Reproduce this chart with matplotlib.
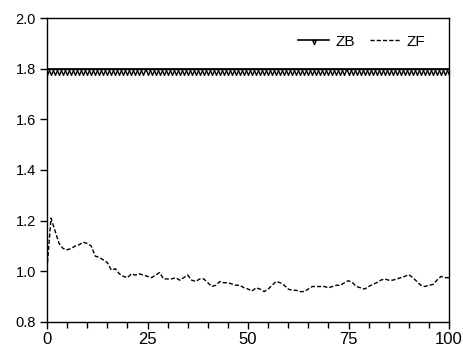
import numpy as np
import matplotlib.pyplot as plt
from matplotlib.ticker import MultipleLocator
from matplotlib.path import Path

plt.rcParams['font.family'] = ['Liberation Sans', 'DejaVu Sans']

# データ
t = np.arange(0, 101)
zb = [1.80] * 101
zf = [1.01, 1.21, 1.16, 1.11, 1.09, 1.085, 1.09, 1.10, 1.105, 1.115,
      1.11, 1.10, 1.06, 1.055, 1.045, 1.035, 1.005, 1.01, 0.99, 0.98,
      0.975, 0.99, 0.985, 0.99, 0.985, 0.98, 0.975, 0.985, 0.995, 0.97,
      0.97, 0.97, 0.975, 0.965, 0.975, 0.985, 0.965, 0.96, 0.97, 0.97,
      0.955, 0.94, 0.945, 0.96, 0.955, 0.955, 0.95, 0.945, 0.945, 0.935,
      0.93, 0.922, 0.935, 0.93, 0.92, 0.93, 0.945, 0.96, 0.955, 0.945,
      0.93, 0.925, 0.925, 0.92, 0.92, 0.93, 0.94, 0.94, 0.94, 0.94,
      0.935, 0.94, 0.945, 0.945, 0.955, 0.963, 0.955, 0.94, 0.935, 0.93,
      0.94, 0.948, 0.955, 0.965, 0.97, 0.965, 0.965, 0.97, 0.975, 0.98,
      0.987, 0.975, 0.96, 0.945, 0.94, 0.945, 0.948, 0.965, 0.98, 0.975,
      0.975]

# 線の下にぶら下がる三角マーカー
tri = Path([(-1, 0), (1, 0), (0, -2.5), (-1, 0)],
           [Path.MOVETO, Path.LINETO, Path.LINETO, Path.CLOSEPOLY])

fig = plt.figure(figsize=(4.64, 3.49), dpi=100)
ax = fig.add_axes([0.1013, 0.0774, 0.8664, 0.871])

ax.plot(t, zb, color='black', lw=1.2, marker=tri, markersize=8.5,
        markerfacecolor='white', markeredgecolor='black', markeredgewidth=1.0,
        label='ZB')
ax.plot(t, zf, color='black', lw=1, linestyle=(0, (3, 1.5)), label='ZF')

ax.set_xlim(0, 100)
ax.set_ylim(0.8, 2.0)
ax.xaxis.set_major_locator(MultipleLocator(25))
ax.xaxis.set_minor_locator(MultipleLocator(5))
ax.yaxis.set_major_locator(MultipleLocator(0.2))
ax.yaxis.set_major_formatter(plt.FormatStrFormatter('%.1f'))

ax.tick_params(axis='both', direction='out', length=5, width=1, color='black')
ax.tick_params(axis='x', which='minor', direction='out', length=4, width=1)
ax.tick_params(axis='x', labelsize=12, pad=2)
ax.tick_params(axis='y', labelsize=10.5, pad=3)
for s in ax.spines.values():
    s.set_linewidth(1)
    s.set_color('black')

ax.legend(loc='upper right', ncol=2, frameon=False, fontsize=11,
          handlelength=2.0, columnspacing=1.0, handletextpad=0.4,
          markerscale=0.7, bbox_to_anchor=(0.975, 0.99))

fig.savefig('out.png', dpi=100)
